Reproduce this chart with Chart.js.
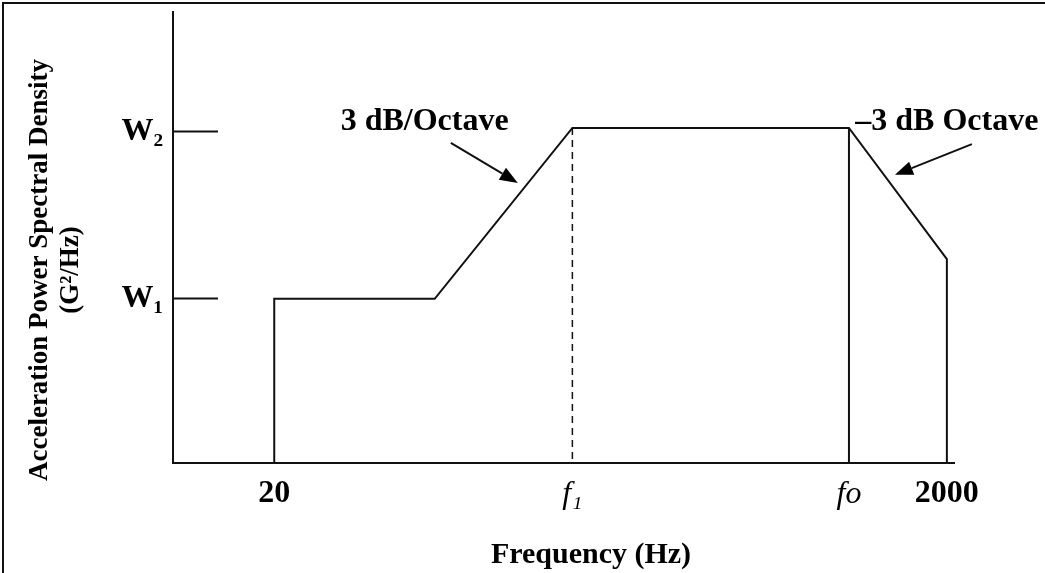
<!DOCTYPE html>
<html>
<head>
<meta charset="utf-8">
<script src="https://cdn.jsdelivr.net/npm/chart.js@4"></script>
<style>
html, body { margin: 0; padding: 0; background: #fff; }
#wrap { width: 1045px; height: 573px; }
</style>
</head>
<body>
<div id="wrap"><canvas id="psd"></canvas></div>
<script>
// axis ticks (log frequency, level in arbitrary units 0-100)
const freqTicks = [20, 154, 1023, 2000];
const freqLabels = ['20', 'f₁', 'fo', '2000'];
const levelTicks = [36.4, 73.5];
const levelLabels = ['W₁', 'W₂'];

// PSD profile
const profileFreq = [20, 20, 60, 154, 1023, 2000, 2000];
const profileLevel = [0, 36.4, 36.4, 74.3, 74.3, 45.2, 0];
const f0Freq = [1023, 1023];
const f0Level = [74.3, 0];
const f1Freq = [154, 154];
const f1Level = [74.3, 0];

// slope notes and their arrows
const noteText = ['3 dB/Octave', '–3 dB Octave'];
const noteFreq = [56, 2000];
const noteLevel = [75.6, 75.6];
const arrowFromFreq = [67, 2374];
const arrowFromLevel = [71, 70.7];
const arrowToFreq = [106, 1402];
const arrowToLevel = [62.1, 63.9];

const SERIF = '"Liberation Serif", "Times New Roman", serif';
const INK = '#111';

function pts(xs, ys) {
    return xs.map((v, i) => ({x: v, y: ys[i]}));
}

const decor = {
    id: 'decor',
    afterDraw(chart) {
        const {ctx} = chart;
        const sx = chart.scales.x, sy = chart.scales.y;
        ctx.save();
        ctx.strokeStyle = INK;
        ctx.fillStyle = '#000';

        // frame, top and left edge only
        ctx.lineWidth = 2;
        ctx.beginPath();
        ctx.moveTo(3, chart.height);
        ctx.lineTo(3, 3);
        ctx.lineTo(chart.width, 3);
        ctx.stroke();

        // arrows
        for (let i = 0; i < arrowFromFreq.length; i++) {
            const x1 = sx.getPixelForValue(arrowFromFreq[i]);
            const y1 = sy.getPixelForValue(arrowFromLevel[i]);
            const x2 = sx.getPixelForValue(arrowToFreq[i]);
            const y2 = sy.getPixelForValue(arrowToLevel[i]);
            const a = Math.atan2(y2 - y1, x2 - x1);
            const len = 18, half = 7;
            const bx = x2 - len * Math.cos(a), by = y2 - len * Math.sin(a);
            ctx.lineWidth = 2;
            ctx.beginPath();
            ctx.moveTo(x1, y1);
            ctx.lineTo(bx, by);
            ctx.stroke();
            ctx.beginPath();
            ctx.moveTo(x2, y2);
            ctx.lineTo(bx + half * Math.sin(a), by - half * Math.cos(a));
            ctx.lineTo(bx - half * Math.sin(a), by + half * Math.cos(a));
            ctx.closePath();
            ctx.fill();
        }

        // notes
        ctx.font = 'bold 32px ' + SERIF;
        ctx.textAlign = 'center';
        ctx.textBaseline = 'middle';
        for (let i = 0; i < noteText.length; i++) {
            ctx.fillText(noteText[i], sx.getPixelForValue(noteFreq[i]), sy.getPixelForValue(noteLevel[i]));
        }

        // axis titles
        ctx.font = 'bold 30px ' + SERIF;
        ctx.fillText('Frequency (Hz)', 591, 555);

        ctx.font = 'bold 27px ' + SERIF;
        ctx.translate(40, 270);
        ctx.rotate(-Math.PI / 2);
        ctx.fillText('Acceleration Power Spectral Density', 0, 0);
        ctx.fillText('(G²/Hz)', 0, 31);
        ctx.restore();
    }
};

Chart.defaults.font.family = SERIF;
Chart.defaults.color = '#000';

const line = {
    borderColor: INK,
    borderWidth: 2,
    pointRadius: 0,
    tension: 0,
    fill: false
};

new Chart(document.getElementById('psd'), {
    type: 'line',
    data: {
        datasets: [
            {...line, data: pts(profileFreq, profileLevel)},
            {...line, data: pts(f0Freq, f0Level)},
            {...line, borderWidth: 1.5, borderDash: [7, 5], data: pts(f1Freq, f1Level)}
        ]
    },
    options: {
        responsive: true,
        maintainAspectRatio: false,
        animation: false,
        devicePixelRatio: 1,
        layout: {padding: {left: 0, top: 12, right: 91, bottom: 0}},
        plugins: {
            legend: {display: false},
            tooltip: {enabled: false}
        },
        scales: {
            x: {
                type: 'logarithmic',
                min: 10,
                max: 2100,
                afterBuildTicks: s => { s.ticks = freqTicks.map(v => ({value: v})); },
                afterFit: s => { s.height = 110; },
                grid: {display: false, drawTicks: false},
                border: {display: true, color: INK, width: 2},
                ticks: {
                    padding: 12,
                    autoSkip: false,
                    maxRotation: 0,
                    callback: (v, i) => freqLabels[i],
                    font: c => ({
                        size: 32,
                        weight: c.index === 1 || c.index === 2 ? 'normal' : 'bold',
                        style: c.index === 1 || c.index === 2 ? 'italic' : 'normal'
                    })
                }
            },
            y: {
                type: 'linear',
                min: 0,
                max: 100,
                afterBuildTicks: s => { s.ticks = levelTicks.map(v => ({value: v})); },
                afterFit: s => {
                    s.width = 173;
                    // tick marks point inward, so the label padding must not pad the plot
                    s.paddingTop = 0;
                    s.paddingBottom = 0;
                },
                grid: {
                    display: true,
                    drawOnChartArea: false,
                    drawTicks: true,
                    tickLength: -45,
                    tickWidth: 2,
                    tickColor: INK
                },
                border: {display: true, color: INK, width: 2},
                ticks: {
                    padding: 55,
                    callback: (v, i) => levelLabels[i],
                    font: {size: 32, weight: 'bold'}
                }
            }
        }
    },
    plugins: [decor]
});
</script>
</body>
</html>
